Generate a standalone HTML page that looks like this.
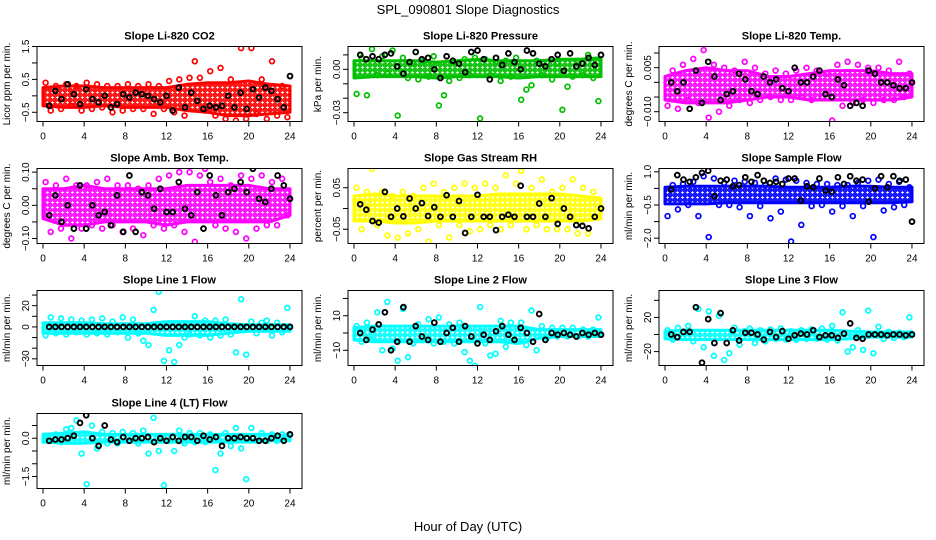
<!DOCTYPE html>
<html><head><meta charset="utf-8">
<style>
html,body{margin:0;padding:0;background:#fff;}
svg{display:block;font-family:"Liberation Sans",sans-serif;}
</style></head>
<body>
<svg id="chart" width="936" height="540" viewBox="0 0 936 540">
<defs id="defs"></defs>
<text x="468" y="14" text-anchor="middle" font-size="13">SPL_090801  Slope Diagnostics</text>
<text x="468" y="531" text-anchor="middle" font-size="13">Hour of Day (UTC)</text>
</svg>
<script>
const hoursC=[0.25,0.75,1.25,1.75,2.25,2.75,3.25,3.75,4.25,4.75,5.25,5.75,6.25,6.75,7.25,7.75,8.25,8.75,9.25,9.75,10.25,10.75,11.25,11.75,12.25,12.75,13.25,13.75,14.25,14.75,15.25,15.75,16.25,16.75,17.25,17.75,18.25,18.75,19.25,19.75,20.25,20.75,21.25,21.75,22.25,22.75,23.25,23.75];
const hoursK=[0.6,1.2,1.8,2.4,3.0,3.6,4.2,4.8,5.4,6.0,6.6,7.2,7.8,8.4,9.0,9.6,10.2,10.8,11.4,12.0,12.6,13.2,13.8,14.4,15.0,15.6,16.2,16.8,17.4,18.0,18.6,19.2,19.8,20.4,21.0,21.6,22.2,22.8,23.4,24.0];
const bandHours=[0,2,4,6,8,10,12,14,16,18,20,22,24];
const xTickLabels=["0","4","8","12","16","20","24"];

const p1Lo=[-0.3,-0.35,-0.35,-0.3,-0.35,-0.35,-0.35,-0.45,-0.5,-0.6,-0.6,-0.55,-0.5];
const p1Hi=[0.25,0.3,0.3,0.25,0.25,0.25,0.25,0.35,0.4,0.4,0.45,0.35,0.3];
const p1Pts=[0.4,-0.45,0.3,-0.4,0.35,-0.3,0.3,-0.45,0.4,-0.4,0.35,-0.35,0.3,-0.5,0.3,-0.45,0.35,-0.4,0.3,-0.4,0.35,-0.55,0.3,-0.4,0.45,-0.5,0.5,-0.6,0.55,1.05,0.55,-0.45,0.75,-0.6,0.85,-0.7,0.5,-0.75,1.45,-0.7,1.45,-0.55,0.5,-0.7,1.05,-0.6,0.3,-0.65];
const p1Blk=[-0.3,0.15,-0.1,0.35,0.05,-0.25,0.2,-0.1,-0.2,0.0,-0.35,-0.25,0.05,-0.05,0.1,0.05,0.0,-0.1,-0.2,0.0,-0.45,0.25,-0.35,0.1,-0.15,-0.4,-0.3,-0.35,-0.3,0.0,-0.35,0.1,-0.4,0.2,-0.05,0.25,0.15,-0.1,-0.35,0.6];
const p1Ticks=[-0.5,0,0.5,1,1.5];
const p1TickLabels=["-0.5","","0.5","","1.5"];

const p2Lo=[-0.006,-0.005,-0.005,-0.005,-0.006,-0.005,-0.005,-0.005,-0.006,-0.005,-0.005,-0.005,-0.005];
const p2Hi=[0.006,0.006,0.006,0.006,0.005,0.006,0.007,0.006,0.006,0.006,0.007,0.007,0.008];
const p2Pts=[-0.017,0.008,-0.018,0.014,-0.004,0.009,-0.003,0.013,-0.032,0.008,-0.006,0.004,-0.007,0.006,-0.005,0.009,-0.025,-0.018,-0.008,0.005,-0.006,0.007,-0.004,0.008,-0.034,0.007,-0.004,0.005,-0.008,0.006,-0.005,0.008,-0.021,-0.014,-0.011,0.006,-0.004,0.005,-0.007,0.004,-0.028,-0.012,-0.005,0.006,-0.004,0.010,-0.006,-0.022];
const p2Blk=[0.010,0.007,0.009,0.007,0.010,0.011,0.002,-0.003,0.005,0.012,0.007,0.008,0.0,-0.006,0.009,0.006,0.004,-0.002,0.012,0.013,0.007,-0.007,0.008,0.003,0.011,0.005,0.0,0.013,0.011,0.004,0.002,0.007,0.010,-0.001,0.011,0.002,0.004,0.008,0.003,0.010];
const p2Ticks=[-0.03,-0.02,-0.01,0,0.01];
const p2TickLabels=["-0.03","","","0.00",""];

const p3Lo=[-0.006,-0.007,-0.007,-0.007,-0.006,-0.005,-0.005,-0.006,-0.006,-0.006,-0.006,-0.006,-0.005];
const p3Hi=[0.002,0.004,0.005,0.004,0.004,0.002,0.002,0.003,0.004,0.004,0.004,0.003,0.003];
const p3Pts=[-0.008,0.004,-0.009,0.006,-0.006,0.008,-0.007,0.011,-0.012,0.006,-0.010,0.005,-0.008,0.004,-0.006,0.007,-0.007,0.005,-0.006,0.003,-0.005,0.004,-0.006,0.003,-0.006,0.004,-0.005,0.005,-0.006,0.004,-0.005,0.003,-0.013,0.006,-0.008,0.007,-0.007,0.006,-0.006,0.005,-0.007,0.005,-0.006,0.004,-0.006,0.007,-0.005,0.003];
const p3Blk=[0.0,-0.003,0.0,-0.009,0.004,-0.007,0.007,0.002,-0.006,-0.004,-0.003,0.003,0.001,-0.003,-0.004,0.002,0.0,0.001,-0.002,-0.003,0.005,0.0,0.0,0.002,0.004,-0.004,-0.005,0.001,-0.001,-0.008,-0.007,-0.008,0.004,0.003,0.0,0.0,-0.001,-0.002,-0.002,0.0];
const p3Ticks=[-0.01,-0.005,0,0.005,0.01];
const p3TickLabels=["-0.010","","","0.005",""];

const p4Lo=[-0.04,-0.06,-0.06,-0.05,-0.05,-0.05,-0.06,-0.05,-0.05,-0.05,-0.05,-0.05,-0.03];
const p4Hi=[0.05,0.05,0.06,0.05,0.05,0.05,0.05,0.06,0.06,0.06,0.06,0.05,0.05];
const p4Pts=[0.07,-0.08,0.06,-0.07,0.08,-0.10,0.06,-0.07,0.06,-0.06,0.07,-0.07,0.08,-0.06,0.06,-0.08,0.06,-0.07,0.05,-0.09,0.06,-0.06,0.08,-0.07,0.09,-0.06,0.10,-0.08,0.10,-0.11,0.09,0.11,0.07,-0.06,0.08,-0.07,0.06,-0.08,0.09,-0.10,0.08,-0.07,0.09,-0.06,0.07,-0.06,0.08,-0.03];
const p4Blk=[-0.03,0.03,-0.05,0.0,-0.07,0.06,-0.07,0.0,-0.03,-0.02,-0.06,0.03,-0.08,0.09,-0.08,0.04,0.03,-0.01,0.05,-0.02,-0.02,0.07,-0.01,-0.03,0.04,-0.07,0.09,0.03,-0.03,0.04,0.05,0.07,0.04,0.11,0.02,0.01,0.05,0.09,0.06,0.02];
const p4Ticks=[-0.1,-0.05,0,0.05,0.1];
const p4TickLabels=["-0.10","","0.00","","0.10"];

const p5Lo=[-0.03,-0.03,-0.035,-0.035,-0.03,-0.03,-0.03,-0.03,-0.03,-0.03,-0.03,-0.03,-0.025];
const p5Hi=[0.03,0.035,0.03,0.03,0.03,0.03,0.03,0.035,0.035,0.035,0.035,0.03,0.025];
const p5Pts=[0.05,-0.05,0.04,0.095,-0.04,0.04,-0.065,0.03,-0.07,0.04,-0.06,0.03,-0.05,0.05,-0.08,0.06,-0.04,0.04,-0.07,0.05,-0.04,0.06,-0.055,0.05,-0.05,0.06,-0.04,0.05,-0.05,0.08,-0.04,0.06,0.09,-0.05,0.05,-0.04,0.07,-0.05,0.04,-0.05,0.05,-0.05,0.07,-0.06,0.05,-0.06,0.04,-0.02];
const p5Blk=[0.01,-0.003,-0.03,-0.034,0.04,-0.02,0.0,-0.019,0.024,0.0,0.013,-0.018,0.003,-0.02,0.032,-0.02,0.018,-0.059,-0.02,0.033,-0.02,-0.02,-0.052,-0.02,-0.015,-0.02,0.055,-0.02,-0.02,0.012,-0.02,0.025,-0.037,0.0,-0.02,-0.04,-0.042,-0.048,-0.02,0.0];
const p5Ticks=[-0.05,0,0.05];
const p5TickLabels=["-0.05","","0.05"];

const p6Lo=[-0.45,-0.45,-0.45,-0.4,-0.4,-0.4,-0.4,-0.4,-0.4,-0.4,-0.4,-0.4,-0.35];
const p6Hi=[0.3,0.35,0.35,0.35,0.35,0.35,0.3,0.3,0.3,0.35,0.35,0.3,0.3];
const p6Pts=[-1.0,0.4,-0.7,0.45,-0.5,0.55,-1.0,0.8,-1.95,0.7,-0.5,0.5,-0.5,0.6,-0.6,0.55,-1.0,0.5,-0.55,0.4,-1.1,0.7,-0.8,0.65,-2.15,0.6,-1.4,0.5,-0.55,0.45,-0.5,0.45,-0.8,0.4,-0.55,0.4,-1.0,0.5,-0.55,0.6,-1.95,0.65,-0.75,0.45,-0.6,0.55,-0.5,0.3];
const p6Blk=[0.2,0.85,0.65,0.55,0.75,0.95,1.05,-0.1,0.6,0.65,0.35,0.4,0.75,0.55,0.85,0.6,0.5,0.55,0.45,0.7,0.7,-0.3,0.35,0.3,0.7,0.15,0.1,0.75,0.45,0.8,0.6,0.65,-0.35,0.25,0.8,0.3,0.8,0.6,0.65,-1.25];
const p6Ticks=[-2,-1.25,-0.5,0.25,1];
const p6TickLabels=["-2.0","","-0.5","","1.0"];

const p7Lo=[-6,-6,-6,-6,-6,-6,-8,-8,-8,-6,-4,-4,-4];
const p7Hi=[4,4,4,3,3,3,5,5,5,3,2,2,2];
const p7Pts=[-8,9,-6,8,-7,7,-5,6,-7,7,-6,8,-7,5,-5,9,-10,7,-6,-13,-17,16,33,-32,-22,-33,-17,-10,-7,10,-8,6,-10,6,-8,7,-7,-24,26,-26,5,-6,4,6,-8,4,-5,18];
const p7Blk=[0,0,0,0,0,0,0,0,0,0,0,0,0,0,0,0,0,0,0,0,0,0,0,0,0,0,0,0,0,0,0,0,0,0,0,0,0,0,0,0];
const p7Ticks=[-30,-20,-10,0,10,20,30];
const p7TickLabels=["-30","","","0","","20",""];

const p8Lo=[-4,-5,-5,-5,-5,-5,-5,-5,-6,-3,-2,-2,-2];
const p8Hi=[3,4,4,4,4,4,4,4,4,2,2,2,2];
const p8Pts=[4,-5,6,-4,12,-10,18,-9,-16,14,-14,-6,5,-3,8,-6,9,-5,5,-6,6,-11,-16,-19,15,-6,-13,-12,7,-8,6,-5,6,-7,13,-10,4,-3,3,-2,3,-2,3,-2,2,-2,2,9];
const p8Blk=[0,-4,2,5,12,-10,-5,15,-5,4,-2,-4,6,-5,0,3,-5,4,-2,-6,-1,-4,1,4,-1,-4,3,0,-5,11,-4,0,-1,0,-1,-2,0,-1,0,-1];
const p8Ticks=[-10,0,10,20];
const p8TickLabels=["-10","","10",""];

const p9Lo=[-5,-6,-6,-6,-6,-6,-6,-6,-6,-5,-3,-3,-3];
const p9Hi=[4,5,5,5,5,5,5,5,5,4,3,3,3];
const p9Pts=[5,-6,8,-4,10,-8,30,-15,27,-25,22,-30,-22,8,-12,4,7,-10,5,-8,6,-5,7,-6,4,-6,5,-5,6,-5,7,-6,10,-7,26,-20,-15,5,-18,28,-22,9,-5,3,-4,2,-3,20];
const p9Blk=[0,-3,3,3,32,-33,18,-10,25,-10,5,-7,2,2,0,-6,3,-3,4,-5,-1,1,0,5,-3,-1,-1,-4,1,13,-4,-5,0,0,0,-1,0,0,-1,0];
const p9Ticks=[-20,0,20,40];
const p9TickLabels=["-20","","20",""];

const p10Lo=[-0.15,-0.2,-0.2,-0.15,-0.15,-0.15,-0.15,-0.15,-0.15,-0.15,-0.15,-0.1,-0.1];
const p10Hi=[0.15,0.2,0.25,0.15,0.15,0.15,0.15,0.15,0.15,0.15,0.15,0.15,0.1];
const p10Pts=[0.1,-0.1,0.15,-0.15,0.35,0.4,0.7,-0.6,-1.8,0.5,-0.4,0.25,-0.2,0.2,-0.2,0.25,-0.1,0.2,-0.2,0.3,-0.6,0.8,-0.5,-1.85,-0.1,-0.5,0.3,-0.2,0.2,-0.15,0.2,-0.15,0.15,-1.25,-0.6,0.2,-0.3,0.4,-0.4,-1.6,0.4,-0.1,0.2,-0.1,0.15,-0.1,0.15,0.1];
const p10Blk=[-0.1,-0.05,-0.05,0.0,0.1,0.6,0.9,0.0,-0.3,0.5,-0.05,-0.15,0.05,-0.1,0.0,0.0,0.05,-0.15,0.0,-0.1,0.05,-0.1,0.05,0.05,-0.1,0.1,-0.05,0.05,-0.3,0.0,0.0,0.05,0.0,0.0,-0.1,-0.1,0.0,0.1,-0.1,0.15];
const p10Ticks=[-1.5,-1,-0.5,0,0.5,1];
const p10TickLabels=["-1.5","","","0.0","","1.0"];

const panels=[
 {key:"co2",title:"Slope Li-820 CO2",ylab:"Licor ppm per min.",col:0,row:0,ymin:-0.78,ymax:1.5,color:"#ff0000",lo:p1Lo,hi:p1Hi,pts:p1Pts,blk:p1Blk,ticks:p1Ticks,tl:p1TickLabels},
 {key:"pressure",title:"Slope Li-820 Pressure",ylab:"kPa per min.",col:1,row:0,ymin:-0.0361,ymax:0.0158,color:"#00c000",lo:p2Lo,hi:p2Hi,pts:p2Pts,blk:p2Blk,ticks:p2Ticks,tl:p2TickLabels},
 {key:"temp",title:"Slope Li-820 Temp.",ylab:"degrees C per min.",col:2,row:0,ymin:-0.01334,ymax:0.01222,color:"#ff00ff",lo:p3Lo,hi:p3Hi,pts:p3Pts,blk:p3Blk,ticks:p3Ticks,tl:p3TickLabels},
 {key:"ambbox",title:"Slope Amb. Box Temp.",ylab:"degrees C per min.",col:0,row:1,ymin:-0.115,ymax:0.111,color:"#ff00ff",lo:p4Lo,hi:p4Hi,pts:p4Pts,blk:p4Blk,ticks:p4Ticks,tl:p4TickLabels},
 {key:"rh",title:"Slope Gas Stream RH",ylab:"percent per min.",col:1,row:1,ymin:-0.0843,ymax:0.0963,color:"#ffff00",lo:p5Lo,hi:p5Hi,pts:p5Pts,blk:p5Blk,ticks:p5Ticks,tl:p5TickLabels},
 {key:"sampleflow",title:"Slope Sample Flow",ylab:"ml/min per min.",col:2,row:1,ymin:-2.24,ymax:1.15,color:"#0000ff",lo:p6Lo,hi:p6Hi,pts:p6Pts,blk:p6Blk,ticks:p6Ticks,tl:p6TickLabels},
 {key:"line1",title:"Slope Line 1 Flow",ylab:"ml/min per min.",col:0,row:2,ymin:-36.3,ymax:34.3,color:"#00ffff",lo:p7Lo,hi:p7Hi,pts:p7Pts,blk:p7Blk,ticks:p7Ticks,tl:p7TickLabels},
 {key:"line2",title:"Slope Line 2 Flow",ylab:"ml/min per min.",col:1,row:2,ymin:-18.8,ymax:24.6,color:"#00ffff",lo:p8Lo,hi:p8Hi,pts:p8Pts,blk:p8Blk,ticks:p8Ticks,tl:p8TickLabels},
 {key:"line3",title:"Slope Line 3 Flow",ylab:"ml/min per min.",col:2,row:2,ymin:-36.3,ymax:51.5,color:"#00ffff",lo:p9Lo,hi:p9Hi,pts:p9Pts,blk:p9Blk,ticks:p9Ticks,tl:p9TickLabels},
 {key:"line4",title:"Slope Line 4 (LT) Flow",ylab:"ml/min per min.",col:0,row:3,ymin:-1.97,ymax:0.97,color:"#00ffff",lo:p10Lo,hi:p10Hi,pts:p10Pts,blk:p10Blk,ticks:p10Ticks,tl:p10TickLabels}
];

const NS="http://www.w3.org/2000/svg";
const svg=document.getElementById("chart");
const defs=document.getElementById("defs");
const colX=[37,348,659], rowY=[46.5,168.5,290.5,413.5], PW=265, PH=75;
function mk(tag,attrs,parent){const e=document.createElementNS(NS,tag);for(const k in attrs)e.setAttribute(k,attrs[k]);parent.appendChild(e);return e;}

panels.forEach(p=>{
  const L=colX[p.col], T=rowY[p.row];
  const xs=h=>L+6+h*10.29;
  const ys=v=>T+(p.ymax-v)/(p.ymax-p.ymin)*PH;
  // texture pattern
  const pat=mk("pattern",{id:"pat-"+p.key,width:"5",height:"5",patternUnits:"userSpaceOnUse"},defs);
  mk("rect",{x:0,y:0,width:5,height:5,fill:p.color},pat);
  mk("path",{d:"M2.5 1.2V3.8M1.2 2.5H3.8",stroke:"#fff","stroke-width":"0.9"},pat);
  const g=mk("g",{},svg);
  
  
  const clip=mk("clipPath",{id:"clip-"+p.key},g);
  mk("rect",{x:L,y:T,width:PW,height:PH},clip);
  const t=mk("text",{x:L+PW/2,y:T-7,"text-anchor":"middle","font-size":"11","font-weight":"bold"},g);
  t.textContent=p.title;
  
  
  const yl=mk("text",{x:0,y:0,"text-anchor":"middle","font-size":"10",transform:`translate(${L-27},${T+PH/2}) rotate(-90)`},g);
  yl.textContent=p.ylab;
  
  
  const dl=mk("g",{"clip-path":`url(#clip-${p.key})`},g);
  let pts=bandHours.map((h,i)=>`${xs(h).toFixed(1)},${ys(p.hi[i]).toFixed(1)}`);
  for(let i=bandHours.length-1;i>=0;i--)pts.push(`${xs(bandHours[i]).toFixed(1)},${ys(p.lo[i]).toFixed(1)}`);
  const band=mk("polygon",{points:pts.join(" "),fill:`url(#pat-${p.key})`,stroke:p.color,"stroke-width":"3","stroke-linejoin":"round","fill-opacity":"0.9"},dl);
  
  
  p.pts.forEach((v,i)=>{
    const c=mk("circle",{cx:xs(hoursC[i]).toFixed(1),cy:ys(v).toFixed(1),r:"2.4",fill:"none",stroke:p.color,"stroke-width":"1.7"},dl);
    
    
  });
  p.blk.forEach((v,i)=>{
    const c=mk("circle",{cx:xs(hoursK[i]).toFixed(1),cy:ys(v).toFixed(1),r:"2.4",fill:"none",stroke:"#000","stroke-width":"1.9"},dl);
    
    
  });
  const box=mk("rect",{x:L,y:T,width:PW,height:PH,fill:"none",stroke:"#000","stroke-width":"1"},g);
  
  
  const B=T+PH;
  mk("line",{x1:xs(0),x2:xs(24),y1:B,y2:B,stroke:"#000","stroke-width":"1"},g);
  xTickLabels.forEach((lab,i)=>{
    const h=+lab;
    mk("line",{x1:xs(h),x2:xs(h),y1:B,y2:B+5,stroke:"#000","stroke-width":"1"},g);
    const tx=mk("text",{x:xs(h),y:B+18,"text-anchor":"middle","font-size":"10"},g);
    tx.textContent=lab;
    
    
  });
  const vis=p.ticks.filter(v=>v>=p.ymin&&v<=p.ymax);
  mk("line",{x1:L,x2:L,y1:ys(vis[0]),y2:ys(vis[vis.length-1]),stroke:"#000","stroke-width":"1"},g);
  p.ticks.forEach((v,i)=>{
    if(v<p.ymin||v>p.ymax)return;
    const y=ys(v);
    mk("line",{x1:L-5,x2:L,y1:y,y2:y,stroke:"#000","stroke-width":"1"},g);
    if(p.tl[i]){
      const ty=mk("text",{x:0,y:0,"text-anchor":"middle","font-size":"10",transform:`translate(${L-8},${y}) rotate(-90)`},g);
      ty.textContent=p.tl[i].replace("-","\u2212");
      
      
    }
  });
});
</script>
</body></html>
